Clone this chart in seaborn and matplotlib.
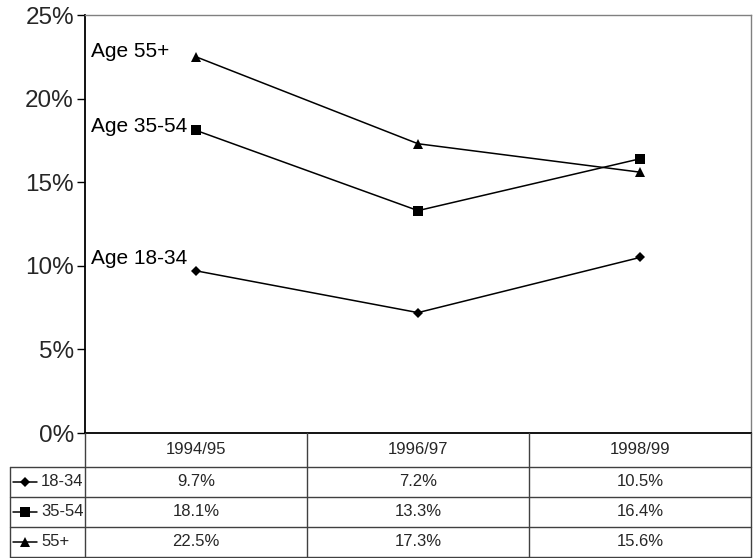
import matplotlib
matplotlib.use("Agg")
import matplotlib.pyplot as plt
from matplotlib.lines import Line2D
import seaborn as sns
import pandas as pd
from matplotlib import font_manager

periods = ["1994/95", "1996/97", "1998/99"]
groups = ["18-34", "35-54", "55+"]
age_18_34 = [9.7, 7.2, 10.5]
age_35_54 = [18.1, 13.3, 16.4]
age_55_plus = [22.5, 17.3, 15.6]
series_labels = ["Age 18-34", "Age 35-54", "Age 55+"]
yticks = [0, 5, 10, 15, 20, 25]

sns.set_theme(style="white")
plt.rcParams['font.family'] = ['Liberation Sans', 'DejaVu Sans']

names = {f.name for f in font_manager.fontManager.ttflist}
narrow = 'Liberation Sans Narrow' if 'Liberation Sans Narrow' in names else 'Liberation Sans'

values = [age_18_34, age_35_54, age_55_plus]
rows = []
for g, vals in zip(groups, values):
    for p, v in zip(periods, vals):
        rows.append({"period": p, "group": g, "value": v})
df = pd.DataFrame(rows)

W, H = 753, 558
fig = plt.figure(figsize=(W / 100, H / 100), dpi=100)
L, R, T, B = 85, 751, 15, 433
ax = fig.add_axes([L / W, 1 - B / H, (R - L) / W, (B - T) / H])

markers = {"18-34": "D", "35-54": "s", "55+": "^"}
msize = {"18-34": 5.5, "35-54": 7.5, "55+": 7.5}
sns.lineplot(data=df, x="period", y="value", style="group", markers=markers,
             dashes=False, color="black", linewidth=1.1, markersize=7,
             ax=ax, legend=False, sort=False)
for line, g in zip(ax.get_lines(), groups):
    line.set_markersize(msize[g])
    line.set_markeredgewidth(0)
    line.set_markerfacecolor("black")

ax.set_xlim(-0.5, 2.5)
ax.set_ylim(0, 25)
ax.set_yticks(yticks)
ax.set_yticklabels([f"{t}%" for t in yticks], fontsize=17.5)
ax.set_xticks(range(len(periods)))
ax.set_xticklabels([])
ax.tick_params(axis="y", length=6, width=1, color="black", direction="out", pad=2, left=True)
ax.tick_params(axis="x", length=0)
ax.set_xlabel("")
ax.set_ylabel("")
ax.grid(False)
for s in ["left", "bottom"]:
    ax.spines[s].set_color("black")
    ax.spines[s].set_linewidth(1.3)
for s in ["top", "right"]:
    ax.spines[s].set_color("#808080")
    ax.spines[s].set_linewidth(1.0)

offsets = {"18-34": (-105, 12), "35-54": (-105, 4), "55+": (-105, 5)}
for g, vals, lab in zip(groups, values, series_labels):
    ax.annotate(lab, xy=(0, vals[0]), xytext=offsets[g], textcoords="offset pixels",
                ha="left", va="center", fontsize=15, color="black")

# table drawn in figure pixel coords
def fx(x):
    return x / W

def fy(y):
    return 1 - y / H

def hline(x0, x1, y, c="#404040", lw=1.0):
    fig.add_artist(Line2D([fx(x0), fx(x1)], [fy(y), fy(y)], color=c, lw=lw))

def vline(x, y0, y1, c="#404040", lw=1.0):
    fig.add_artist(Line2D([fx(x), fx(x)], [fy(y0), fy(y1)], color=c, lw=lw))

col_edges = [85, 307, 529, 751]
row_edges = [433, 467, 497, 527, 557]
left_edge = 10

for y in row_edges[1:]:
    hline(left_edge, col_edges[-1], y)
for x in col_edges[1:]:
    vline(x, row_edges[0], row_edges[-1])
vline(col_edges[0], row_edges[0], row_edges[-1])
vline(left_edge, row_edges[1], row_edges[-1])

for i, p in enumerate(periods):
    cx = (col_edges[i] + col_edges[i + 1]) / 2
    cy = (row_edges[0] + row_edges[1]) / 2
    fig.text(fx(cx), fy(cy), p, ha="center", va="center", fontsize=12, family=[narrow, 'DejaVu Sans'])

for r, (g, vals) in enumerate(zip(groups, values)):
    cy = (row_edges[r + 1] + row_edges[r + 2]) / 2
    for i, v in enumerate(vals):
        cx = (col_edges[i] + col_edges[i + 1]) / 2
        fig.text(fx(cx), fy(cy), f"{v:.1f}%", ha="center", va="center", fontsize=12,
                 family=[narrow, 'DejaVu Sans'])
    fig.add_artist(Line2D([fx(13), fx(37)], [fy(cy), fy(cy)], color="black", lw=1.1))
    fig.add_artist(Line2D([fx(25)], [fy(cy)], marker=markers[g], color="black",
                          markersize=msize[g], markeredgewidth=0, linestyle="none"))
    fig.text(fx(41), fy(cy), g, ha="left", va="center", fontsize=12, family=[narrow, 'DejaVu Sans'])

fig.savefig("out.png", dpi=100)
